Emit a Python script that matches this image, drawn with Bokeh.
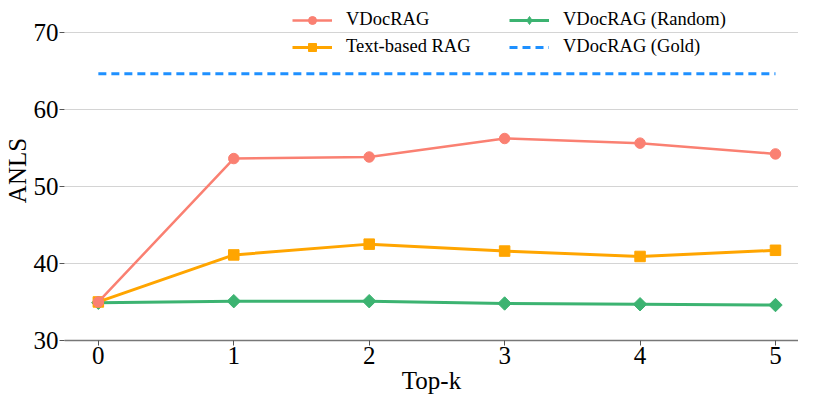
import math
from bokeh.plotting import figure
from bokeh.models import Legend, LegendItem, FixedTicker, Range1d
from bokeh.embed import file_html
from bokeh.resources import INLINE

top_k = [0, 1, 2, 3, 4, 5]
vdocrag = [35.0, 53.6, 53.8, 56.2, 55.6, 54.2]
text_rag = [35.0, 41.1, 42.5, 41.6, 40.9, 41.7]
vdocrag_random = [34.9, 35.1, 35.1, 34.8, 34.7, 34.6]
vdocrag_gold = 64.6
y_ticks = [30, 40, 50, 60, 70]

FONT = "Liberation Serif"

p = figure(width=798, height=396, output_backend="svg", toolbar_location=None,
           x_range=Range1d(-0.25, 5.17), y_range=Range1d(30, 74.1),
           min_border_left=50, min_border_right=0, min_border_top=0, min_border_bottom=50)
p.outline_line_color = None
p.background_fill_color = "white"

p.xgrid.grid_line_color = None
p.ygrid.grid_line_color = "#d4d4d4"
p.ygrid.grid_line_width = 1.2
p.ygrid.ticker = FixedTicker(ticks=y_ticks)

p.xaxis.ticker = FixedTicker(ticks=top_k)
p.yaxis.ticker = FixedTicker(ticks=y_ticks)
for ax in (p.xaxis[0], p.yaxis[0]):
    ax.major_label_text_font = FONT
    ax.major_label_text_font_size = "25px"
    ax.major_label_text_color = "black"
    ax.axis_label_text_font = FONT
    ax.axis_label_text_font_size = "25px"
    ax.axis_label_text_font_style = "normal"
    ax.axis_label_text_color = "black"
    ax.minor_tick_line_color = None
    ax.major_tick_line_color = "#555555"
    ax.major_tick_out = 5
    ax.major_tick_in = 0
    ax.major_label_standoff = 1
    ax.axis_label_standoff = 0
p.xaxis.axis_label = "Top-k"
p.yaxis.axis_label = "ANLS"
p.xaxis.axis_line_color = "#777777"
p.xaxis.axis_line_width = 1.5
p.yaxis.axis_line_color = None

c_red, c_orange, c_green, c_blue = "#FA8072", "#FFA500", "#3CB371", "#1E90FF"

gold_x = [top_k[0], top_k[-1]]
gold_y = [vdocrag_gold, vdocrag_gold]
g_gold = p.line(gold_x, gold_y, line_color=c_blue, line_width=3, line_dash="8 5")

l_green = p.line(top_k, vdocrag_random, line_color=c_green, line_width=3)
m_green = p.scatter(top_k, vdocrag_random, marker="square", angle=math.pi / 4, size=9.5,
                    fill_color=c_green, line_color=c_green)
# legend-only diamond swatch (a single undrawn NaN point)
nan = float("nan")
leg_green = p.scatter(x=[nan], y=[nan], marker="diamond", size=16, fill_color=c_green, line_color=c_green)
l_orange = p.line(top_k, text_rag, line_color=c_orange, line_width=3)
m_orange = p.scatter(top_k, text_rag, marker="square", size=10.5, fill_color=c_orange, line_color=c_orange)
l_red = p.line(top_k, vdocrag, line_color=c_red, line_width=2.5)
m_red = p.scatter(top_k, vdocrag, marker="circle", size=10.5, fill_color=c_red, line_color=c_red)

legend = Legend(items=[
    LegendItem(label="VDocRAG", renderers=[l_red, m_red]),
    LegendItem(label="Text-based RAG", renderers=[l_orange, m_orange]),
    LegendItem(label="VDocRAG (Random)", renderers=[l_green, leg_green]),
    LegendItem(label="VDocRAG (Gold)", renderers=[g_gold]),
], ncols=2, location=(228, 283), orientation="vertical")
legend.background_fill_alpha = 0
legend.border_line_color = None
legend.label_text_font = FONT
legend.label_text_font_size = "18.5px"
legend.label_text_color = "black"
legend.glyph_width = 40
legend.glyph_height = 20
legend.spacing = 6
legend.label_standoff = 14
legend.padding = 4
legend.margin = 0
legend.label_width = 157
p.add_layout(legend, "center")

open("out.html", "w").write(file_html(p, INLINE))
